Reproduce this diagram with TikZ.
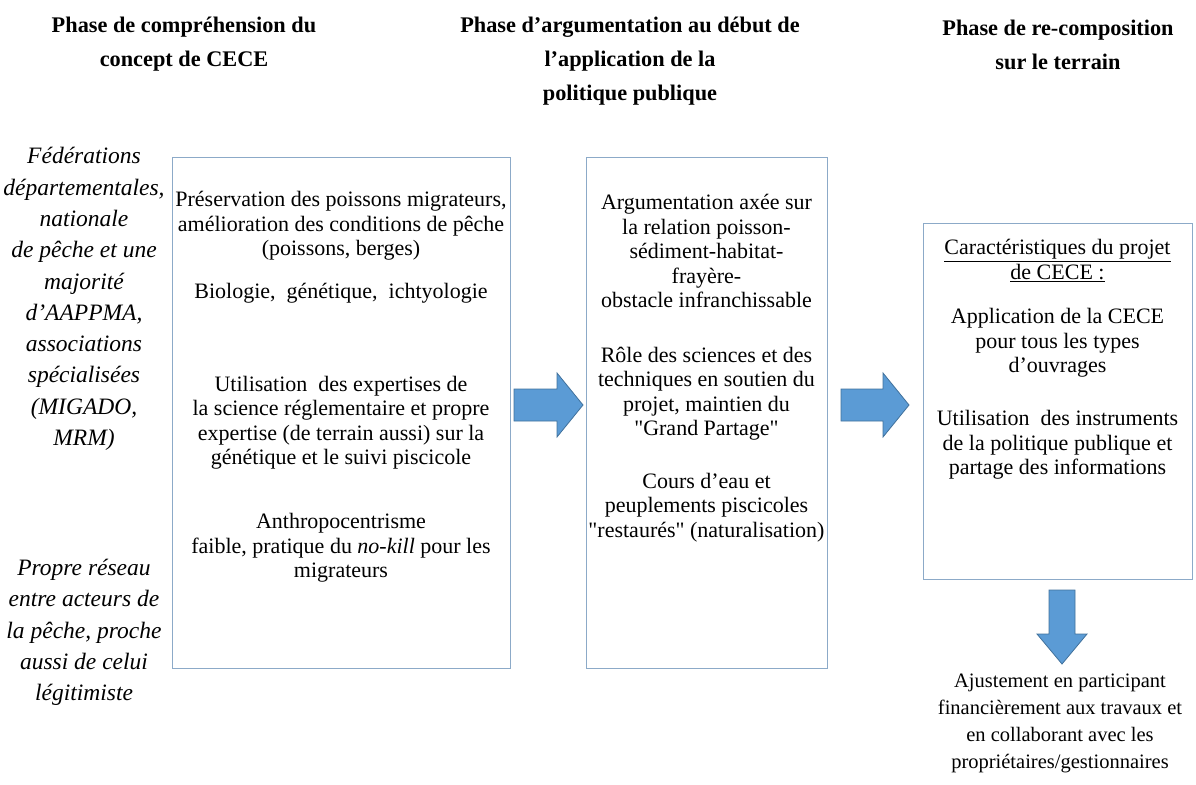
\documentclass[tikz,border=0pt]{standalone}
\usepackage{fontspec}
\setmainfont{Liberation Serif}
\usepackage{tikz}

\definecolor{boxline}{RGB}{140,170,200}
\definecolor{arrowfill}{RGB}{91,155,213}
\definecolor{arrowline}{RGB}{65,113,156}

\tikzset{
    panel/.style={draw=boxline, line width=1pt, inner sep=0pt},
    txt/.style={align=center, inner sep=0pt, font=\fontsize{22}{24.5}\selectfont},
    actor/.style={align=center, inner sep=0pt, font=\fontsize{23.5}{31.3}\selectfont\itshape},
    phase/.style={align=center, inner sep=0pt, font=\fontsize{22.3}{34}\selectfont\bfseries},
    blockarrow/.style={fill=arrowfill, draw=arrowline, line width=0.8pt, line join=miter}
}

\begin{document}
\begin{tikzpicture}[x=1pt, y=-1pt]
    \useasboundingbox (0,0) rectangle (1196,784);

    % Phase titles
    \node[phase] (phase1) at (184,44.5) {Phase de compréhension du\\concept de CECE};
    \node[phase] (phase2) at (630,61) {Phase d’argumentation au début de\\l’application de la\\politique publique};
    \node[phase] (phase3) at (1058,44.5) {Phase de re-composition\\sur le terrain};

    % Actors on the left
    \node[actor] (actors) at (84,299) {Fédérations\\départementales,\\nationale\\de pêche et une\\majorité\\d’AAPPMA,\\associations\\spécialisées\\(MIGADO,\\MRM)};
    \node[actor] (network) at (84,632.5) {Propre réseau\\entre acteurs de\\la pêche, proche\\aussi de celui\\légitimiste};

    % First box
    \node[panel, minimum width=338, minimum height=511] (box1) at (341,412.5) {};
    \node[txt] (pres) at (341,226) {Préservation des poissons migrateurs,\\amélioration des conditions de pêche\\(poissons, berges)};
    \node[txt] (bio) at (341,293) {Biologie,\ \ génétique,\ \ ichtyologie};
    \node[txt] (expert) at (341,422.5) {Utilisation\ \ des expertises de\\la science réglementaire et propre\\expertise (de terrain aussi) sur la\\génétique et le suivi piscicole};
    \node[txt] (anthro) at (341,548) {Anthropocentrisme\\faible, pratique du \textit{no-kill} pour les\\migrateurs};

    % Second box
    \node[panel, minimum width=241, minimum height=511] (box2) at (706.5,412.5) {};
    \node[txt] (argu) at (706.5,251) {Argumentation axée sur\\la relation poisson-\\sédiment-habitat-\\frayère-\\obstacle infranchissable};
    \node[txt] (role) at (706.5,393.5) {Rôle des sciences et des\\techniques en soutien du\\projet, maintien du\\\textquotedbl Grand Partage\textquotedbl};
    \node[txt] (cours) at (706.5,507.5) {Cours d’eau et\\peuplements piscicoles\\\textquotedbl restaurés\textquotedbl\ (naturalisation)};

    % Third box
    \node[panel, minimum width=269, minimum height=356] (box3) at (1057.5,401) {};
    \node[txt] (carac) at (1057.5,260.5) {\underline{Caractéristiques du projet}\\\underline{de CECE :}};
    \node[txt] (appli) at (1057.5,343) {Application de la CECE\\pour tous les types\\d’ouvrages};
    \node[txt] (instr) at (1057.5,445) {Utilisation\ \ des instruments\\de la politique publique et\\partage des informations};

    % Result below
    \node[txt, font=\fontsize{20.5}{27}\selectfont] (ajust) at (1060,723.5) {Ajustement en participant\\financièrement aux travaux et\\en collaborant avec les\\propriétaires/gestionnaires};

    % Block arrows
    \draw[blockarrow] (514,389) -- (557,389) -- (557,373) -- (583,405) -- (557,437) -- (557,421) -- (514,421) -- cycle;
    \draw[blockarrow] (841,389) -- (883,389) -- (883,373) -- (909,405) -- (883,437) -- (883,421) -- (841,421) -- cycle;
    \draw[blockarrow] (1049,590) -- (1075,590) -- (1075,634) -- (1087,634) -- (1062,664) -- (1037,634) -- (1049,634) -- cycle;
\end{tikzpicture}
\end{document}
